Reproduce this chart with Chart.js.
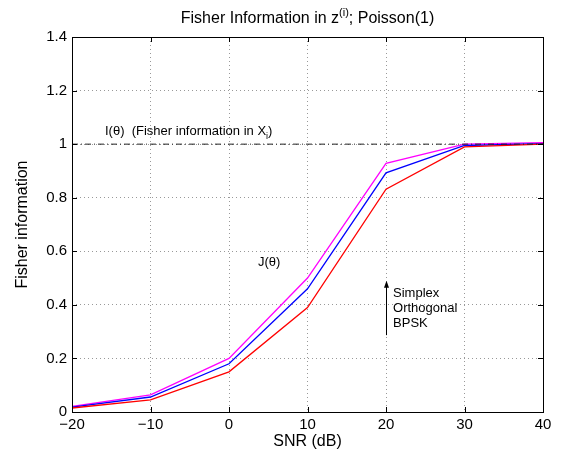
<!DOCTYPE html>
<html>
<head>
<meta charset="utf-8">
<script src="https://cdn.jsdelivr.net/npm/chart.js@4.4.0/dist/chart.umd.min.js"></script>
<style>
  html, body { margin: 0; padding: 0; background: #fff; }
  #wrap { width: 567px; height: 453px; }
</style>
</head>
<body>
<div id="wrap"><canvas id="fisher" width="567" height="453"></canvas></div>
<script>
// SNR in dB and Fisher information
const snr = [-20, -10, 0, 10, 20, 30, 40]
const bpsk = [0.015, 0.045, 0.15, 0.39, 0.832, 0.99, 1.0]
const orthogonal = [0.018, 0.056, 0.18, 0.46, 0.893, 0.995, 1.002]
const simplex = [0.021, 0.064, 0.20, 0.50, 0.928, 1.0, 1.006]
const fullInfo = [1, 1]
const fullInfoX = [-20, 40]
const xTicks = [-20, -10, 0, 10, 20, 30, 40]
const yTicks = [0, 0.2, 0.4, 0.6, 0.8, 1, 1.2, 1.4]

const FONT = 'Liberation Sans, Arial, Helvetica, sans-serif'
const pts = (xs, ys) => xs.map((x, i) => ({ x: x, y: ys[i] }))

// matlab-ish box, inward ticks, title and the text notes
const matlabBits = {
    id: 'matlabBits',
    afterDraw(chart) {
        const ctx = chart.ctx
        const a = chart.chartArea
        const xs = chart.scales.x
        const ys = chart.scales.y
        ctx.save()
        ctx.strokeStyle = '#000'
        ctx.lineWidth = 1
        ctx.strokeRect(a.left + 0.5, a.top + 0.5, a.right - a.left, a.bottom - a.top)
        ctx.beginPath()
        xTicks.forEach(v => {
            const px = Math.round(xs.getPixelForValue(v)) + 0.5
            ctx.moveTo(px, a.bottom); ctx.lineTo(px, a.bottom - 5)
            ctx.moveTo(px, a.top); ctx.lineTo(px, a.top + 5)
        })
        yTicks.forEach(v => {
            const py = Math.round(ys.getPixelForValue(v)) + 0.5
            ctx.moveTo(a.left, py); ctx.lineTo(a.left + 5, py)
            ctx.moveTo(a.right, py); ctx.lineTo(a.right - 5, py)
        })
        ctx.stroke()

        // title with superscript
        ctx.fillStyle = '#000'
        ctx.textBaseline = 'alphabetic'
        const big = '16px ' + FONT
        const small = '11px ' + FONT
        const parts = [['Fisher Information in z', big, 0], ['(i)', small, -7], ['; Poisson(1)', big, 0]]
        let w = 0
        parts.forEach(p => { ctx.font = p[1]; w += ctx.measureText(p[0]).width })
        let tx = (a.left + a.right) / 2 - w / 2
        parts.forEach(p => {
            ctx.font = p[1]
            ctx.fillText(p[0], tx, 23 + p[2])
            tx += ctx.measureText(p[0]).width
        })

        // notes
        ctx.font = '13px ' + FONT
        let nx = xs.getPixelForValue(-15.8)
        let ny = ys.getPixelForValue(1.035)
        const s1 = 'I(\u03B8)  (Fisher information in X'
        ctx.fillText(s1, nx, ny)
        let sw = ctx.measureText(s1).width
        ctx.font = '9px ' + FONT
        ctx.fillText('i', sw + nx, ny + 4)
        ctx.font = '13px ' + FONT
        ctx.fillText(')', sw + nx + ctx.measureText('i').width - 1, ny)

        ctx.fillText('J(\u03B8)', xs.getPixelForValue(3.7), ys.getPixelForValue(0.545))

        const ax = Math.round(xs.getPixelForValue(20)) + 0.5
        const y0 = ys.getPixelForValue(0.287)
        const y1 = ys.getPixelForValue(0.49)
        ctx.beginPath()
        ctx.moveTo(ax, y0); ctx.lineTo(ax, y1 + 4)
        ctx.stroke()
        ctx.beginPath()
        ctx.moveTo(ax, y1); ctx.lineTo(ax - 2.5, y1 + 7); ctx.lineTo(ax + 2.5, y1 + 7)
        ctx.closePath()
        ctx.fill()

        const lx = xs.getPixelForValue(20.9)
        ctx.fillText('Simplex', lx, ys.getPixelForValue(0.43))
        ctx.fillText('Orthogonal', lx, ys.getPixelForValue(0.373))
        ctx.fillText('BPSK', lx, ys.getPixelForValue(0.316))
        ctx.restore()
    }
}

const fisherChart = new Chart(document.getElementById('fisher'), {
    type: 'line',
    data: {
        datasets: [{
            label: 'I(theta)',
            data: pts(fullInfoX, fullInfo),
            borderColor: '#222',
            borderWidth: 1,
            borderDash: [6, 3, 1, 3],
            pointRadius: 0
        }, {
            label: 'BPSK',
            data: pts(snr, bpsk),
            borderColor: '#ff0000',
            borderWidth: 1.3,
            pointRadius: 0
        }, {
            label: 'Orthogonal',
            data: pts(snr, orthogonal),
            borderColor: '#0000ff',
            borderWidth: 1.3,
            pointRadius: 0
        }, {
            label: 'Simplex',
            data: pts(snr, simplex),
            borderColor: '#ff00ff',
            borderWidth: 1.3,
            pointRadius: 0
        }]
    },
    options: {
        responsive: false,
        animation: false,
        layout: { padding: { left: 0, right: 24, top: 37, bottom: 0 } },
        plugins: { legend: { display: false }, title: { display: false }, tooltip: { enabled: false } },
        scales: {
            x: {
                type: 'linear',
                min: -20,
                max: 40,
                afterBuildTicks: s => { s.ticks = xTicks.map(v => ({ value: v })) },
                afterFit: s => { s.height = 41 },
                grid: { color: '#999', drawTicks: false },
                border: { display: false, dash: [1, 3] },
                ticks: {
                    color: '#000',
                    padding: 4,
                    font: { family: FONT, size: 15 },
                    maxRotation: 0,
                    callback: v => String(v).replace('-', '\u2212')
                },
                title: { display: true, text: 'SNR (dB)', color: '#000', font: { family: FONT, size: 16 }, padding: { top: 0, bottom: 2 } }
            },
            y: {
                type: 'linear',
                min: 0,
                max: 1.4,
                afterBuildTicks: s => { s.ticks = yTicks.map(v => ({ value: v })) },
                afterFit: s => { s.width = 72 },
                grid: { color: '#999', drawTicks: false },
                border: { display: false, dash: [1, 3] },
                ticks: {
                    color: '#000',
                    padding: 5,
                    font: { family: FONT, size: 15 },
                    callback: v => String(Math.round(v * 10) / 10)
                },
                title: { display: true, text: 'Fisher information', color: '#000', font: { family: FONT, size: 16 }, padding: { top: 13, bottom: 8 } }
            }
        }
    },
    plugins: [matlabBits]
})
</script>
</body>
</html>
